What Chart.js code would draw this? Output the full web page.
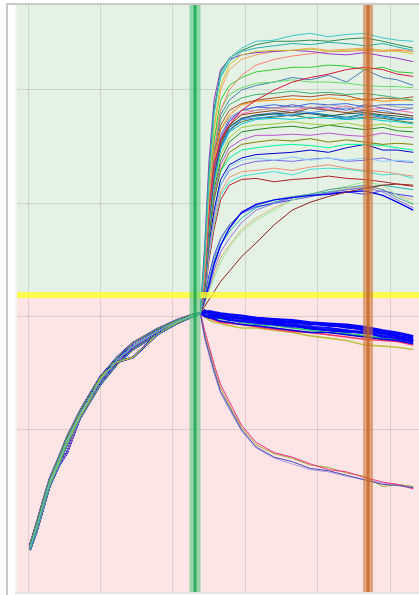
<!DOCTYPE html>
<html>
<head>
<meta charset="utf-8">
<script src="https://cdn.jsdelivr.net/npm/chart.js@4.4.0/dist/chart.umd.min.js"></script>
<style>
  html, body { margin: 0; padding: 0; background: #fff; }
  #wrap { width: 419px; height: 595px; }
</style>
</head>
<body>
<div id="wrap"><canvas id="grafica" width="419" height="595"></canvas></div>
<script>
// shared time axis: before the green marker all runs climb together
const preTimes = [0.3, 1.2, 2.1, 3.0, 4.4, 5.4, 7.2, 8.3, 10, 12.3, 14.5, 17.8, 20.6, 22.8];
const postTimes = [23.8, 24.4, 25.0, 25.7, 26.6, 27.8, 29.5, 31.5, 34, 36.5, 39, 41.5, 44, 46.5, 49, 51, 53.2];

// a few slightly different climbs for the bundle
const riseA = [-104, -86, -66, -46, -25, -9, 14, 26, 44, 62, 74, 87, 96, 101];
const riseB = [-101, -82, -62, -43, -22, -6, 17, 29, 47, 64, 77, 89, 97, 102];
const riseC = [-106, -90, -70, -50, -29, -13, 10, 22, 40, 58, 71, 84, 94, 100];
const riseD = [-102, -85, -64, -48, -27, -12, 12, 24, 46, 60, 64, 84, 95, 101];
const riseE = [-105, -88, -68, -49, -30, -20, 11, 25, 43, 61, 73, 86, 96, 101];
const rises = [riseA, riseB, riseC, riseD, riseE];

const threshold = 119;      // yellow line, green zone above / red zone below
const markerStart = 23.07;  // green marker
const markerEnd = 46.96;    // orange marker
const xGrid = [0, 10, 20, 30, 40, 50];
const yGrid = [0, 100, 200, 300];

// runs that jump up and level off
const plateauRuns = [
  [103,150,221,278,313,328,337,343,344,348,350,347,349,350,346,344,343],
  [103,154,225,282,316,328,335,340,343,343,344,343,345,346,343,340,337],
  [103,159,229,284,311,325,334,337,339,341,340,342,341,339,341,338,335],
  [103,152,216,269,304,322,331,334,335,335,336,334,335,336,335,334,332],
  [103,163,238,291,318,327,331,333,334,335,334,332,331,333,330,328,325],
  [103,147,212,265,300,318,327,331,334,335,337,335,336,337,335,336,334],
  [103,137,203,247,282,300,313,322,327,330,332,334,334,335,334,335,334],
  [103,137,194,234,256,269,282,291,300,307,311,314,318,320,318,314,312],
  [103,141,203,256,291,304,311,316,318,320,320,322,321,318,320,316,315],
  [103,146,207,256,282,296,302,306,307,309,307,307,306,304,303,303,302],
  [103,141,199,247,278,291,300,304,307,311,309,313,307,318,311,309,304],
  [103,146,203,247,274,287,293,296,297,299,297,298,296,297,295,293,291],
  [103,146,199,243,269,282,288,291,293,295,294,296,295,291,293,292,294],
  [103,139,194,238,265,278,287,290,291,292,291,293,291,292,290,291,291],
  [103,137,190,234,265,276,282,282,284,285,284,287,285,284,287,285,284],
  [103,139,192,234,260,274,282,285,287,285,288,287,288,285,287,287,287],
  [103,135,187,229,256,272,282,285,284,287,284,285,282,287,284,282,284],
  [103,137,185,228,254,269,278,280,282,280,284,282,280,282,280,279,277],
  [103,133,183,225,252,267,275,278,279,280,279,277,279,280,278,277,275],
  [103,135,181,221,249,265,274,275,277,278,280,277,275,278,276,274,274],
  [103,133,179,219,247,263,270,274,275,274,276,275,274,275,273,272,270],
  [103,130,177,216,243,258,267,269,270,272,270,269,271,268,270,267,267],
  [103,128,172,212,238,254,263,265,267,268,266,269,267,265,267,264,263],
  [103,128,170,207,234,249,256,260,260,261,260,262,260,259,262,260,258],
  [103,126,168,203,229,245,252,254,256,255,257,254,256,254,252,253,252],
  [103,128,170,203,228,240,247,249,251,252,251,249,252,252,251,249,247],
  [103,124,165,194,221,234,240,243,244,245,247,245,249,252,247,247,245],
  [103,124,162,192,216,232,238,240,238,241,238,240,238,240,237,238,237],
  [103,121,159,190,216,229,234,237,238,237,239,240,237,238,240,237,236],
  [103,121,156,185,210,223,228,229,231,229,232,234,231,229,228,226,224],
  [103,119,154,181,207,219,224,226,228,225,230,231,230,228,225,226,222],
  [103,117,150,177,203,216,221,222,219,221,222,224,222,221,219,217,215],
  [103,137,187,231,258,272,279,282,284,282,285,283,286,282,284,282,280],
  [103,134,181,224,250,265,272,275,276,278,275,277,274,276,275,273,271],
  [103,132,180,222,249,263,274,278,280,282,280,282,284,280,282,279,277],
  [103,139,190,231,256,268,275,277,279,277,280,278,276,279,277,275,274]
];
const plateauColors = ['#3cc8c8','#2e8b57','#20b2aa','#c8c832','#9932cc','#f4a460','#fa8072','#dc143c',
  '#32cd32','#66dd66','#4682b4','#3cb371','#a0522d','#ff8c00','#a9a9a9','#4169e1','#6a5acd','#8b4513',
  '#2f4f4f','#1e90ff','#00ced1','#9acd32','#228b22','#ba55d3','#808000','#00fa9a','#0000cd','#87cefa',
  '#7b68ee','#e9967a','#40e0d0','#b22222','#ff69b4','#556b2f','#6495ed','#008b8b'];

// runs that climb slowly
const slowRuns = [
  [103,109,115,122,131,140,153,165,181,194,201,206,210,213,216,217,216],
  [103,115,128,146,163,178,192,199,203,205,207,208,210,211,207,201,194],
  [103,117,132,150,168,181,192,198,203,206,208,212,214,216,212,205,199],
  [103,110,122,134,148,161,175,185,194,203,207,212,215,219,216,207,200],
  [103,112,124,141,157,169,183,194,200,205,207,209,212,214,210,203,196],
  [103,118,137,154,169,181,191,197,200,203,206,209,210,208,211,208,206],
  [103,115,131,148,163,175,187,196,201,205,208,210,212,214,216,214,212],
  [103,112,124,137,152,163,177,187,196,203,206,210,213,215,212,207,203]
];
const slowColors = ['#8b2323','#0000ff','#5f9ea0','#98e898','#9370db','#3a3aff','#20b2aa','#deb887'];

// runs that sink slowly under the yellow line
const fallRuns = [
  [103,104,105,104,103,102,101,99,98,97,95,94,93,91,88,86,83],
  [103,101,101,101,100,99,99,97,95,96,94,92,91,88,86,83,81],
  [103,106,104,103,101,101,99,98,96,94,93,93,90,89,86,84,79],
  [103,101,100,99,99,97,96,95,93,92,90,88,87,86,82,81,78],
  [103,104,102,101,100,99,97,94,93,91,92,89,87,85,84,80,77],
  [103,103,103,101,100,100,98,96,94,93,91,90,88,86,85,82,79],
  [103,100,99,98,96,95,93,92,90,88,86,86,84,82,80,79,76],
  [103,105,103,102,102,101,99,99,97,95,94,93,92,90,87,85,82],
  [103,100,99,97,95,94,93,91,89,87,86,84,82,80,79,78,75],
  [103,101,100,99,98,97,95,93,92,90,88,86,85,83,81,79,79],
  [103,100,97,95,94,92,90,90,88,86,83,81,79,75,74,73,71],
  [103,101,99,100,99,98,95,95,94,92,89,88,86,87,83,82,79]
];
const fallColors = ['#0000ff','#0000ff','#1010ee','#0000ff','#2020ff','#0000ff','#0000e0','#0000ff',
  '#ff3366','#2ecc71','#c0c040','#0000ff'];

// runs that drop away
const dropRuns = [
  [103,82,68,52,34,20,0,-15,-24,-28,-34,-36,-40,-44,-48,-49,-51],
  [103,88,74,58,40,25,4,-11,-20,-24,-30,-35,-37,-42,-46,-48,-52],
  [103,85,71,55,37,22,2,-13,-21,-25,-31,-33,-38,-41,-50,-48,-50],
  [103,80,66,50,32,18,-1,-16,-25,-30,-35,-37,-41,-44,-47,-48,-50]
];
const dropColors = ['#4b4bb4','#ff2d8a','#9aa832','#a9a0e0'];

const toPoints = (rise, post) => {
  let pts = preTimes.map((t, i) => ({x: t, y: rise[i]}));
  postTimes.forEach((t, i) => pts.push({x: t, y: post[i]}));
  return pts;
};

let datasets = [];
let k = 0;
const addGroup = (runs, colors, width) => {
  runs.forEach((run, i) => {
    datasets.push({
      data: toPoints(rises[k % rises.length], run),
      borderColor: colors[i],
      borderWidth: colors[i] === '#0000ff' ? width + 0.4 : width,
      pointRadius: 0,
      tension: 0,
      fill: false
    });
    k++;
  });
};
addGroup(plateauRuns, plateauColors, 1);
addGroup(slowRuns, slowColors, 1);
addGroup(dropRuns, dropColors, 1);
addGroup(fallRuns, fallColors, 1.6);

// zones, frame and markers
const zones = {
  id: 'zones',
  beforeDraw(chart) {
    const {ctx, chartArea: a, scales} = chart;
    const yT = scales.y.getPixelForValue(threshold);
    ctx.save();
    ctx.fillStyle = '#ffffff';
    ctx.fillRect(0, 0, chart.width, chart.height);
    ctx.fillStyle = '#c9c9c9';
    ctx.fillRect(6, 3, 2, chart.height - 3);
    ctx.fillRect(6, 3, chart.width - 6, 2);
    ctx.fillStyle = '#f3f3f3';
    ctx.fillRect(15, a.top, 2, a.bottom - a.top);
    ctx.fillStyle = '#e4e4e4';
    ctx.fillRect(15, a.bottom, chart.width - 15, 2);
    ctx.fillStyle = '#e6f1e6';
    ctx.fillRect(a.left, a.top, a.right - a.left, yT - a.top);
    ctx.fillStyle = '#fde5e5';
    ctx.fillRect(a.left, yT, a.right - a.left, a.bottom - yT);
    ctx.restore();
  },
  afterDatasetsDraw(chart) {
    const {ctx, chartArea: a, scales} = chart;
    const yT = scales.y.getPixelForValue(threshold);
    const xG = scales.x.getPixelForValue(markerStart);
    const xO = scales.x.getPixelForValue(markerEnd);
    ctx.save();
    ctx.fillStyle = 'rgba(255,255,40,0.8)';
    ctx.fillRect(a.left, yT - 3, a.right - a.left, 6);
    ctx.fillStyle = 'rgba(70,195,115,0.55)';
    ctx.fillRect(xG - 5.5, a.top, 11, a.bottom - a.top);
    ctx.fillStyle = 'rgba(20,165,75,0.8)';
    ctx.fillRect(xG - 1.5, a.top, 3, a.bottom - a.top);
    ctx.fillStyle = 'rgba(205,115,55,0.6)';
    ctx.fillRect(xO - 5, a.top, 10, a.bottom - a.top);
    ctx.fillStyle = 'rgba(200,95,25,0.7)';
    ctx.fillRect(xO - 1.5, a.top, 3, a.bottom - a.top);
    ctx.restore();
  }
};

new Chart(document.getElementById('grafica'), {
  type: 'line',
  data: { datasets: datasets },
  options: {
    responsive: false,
    animation: false,
    layout: { padding: { left: 17, top: 5, right: 0, bottom: 3 } },
    plugins: { legend: { display: false }, tooltip: { enabled: false } },
    scales: {
      x: {
        type: 'linear', min: -1.52, max: 54.0,
        afterBuildTicks: axis => { axis.ticks = xGrid.map(v => ({value: v})); },
        ticks: { display: false },
        grid: { color: 'rgba(0,0,0,0.11)', drawTicks: false },
        border: { display: false }
      },
      y: {
        type: 'linear', min: -143, max: 375,
        afterBuildTicks: axis => { axis.ticks = yGrid.map(v => ({value: v})); },
        ticks: { display: false },
        grid: { color: 'rgba(0,0,0,0.11)', drawTicks: false },
        border: { display: false }
      }
    }
  },
  plugins: [zones]
});
</script>
</body>
</html>
